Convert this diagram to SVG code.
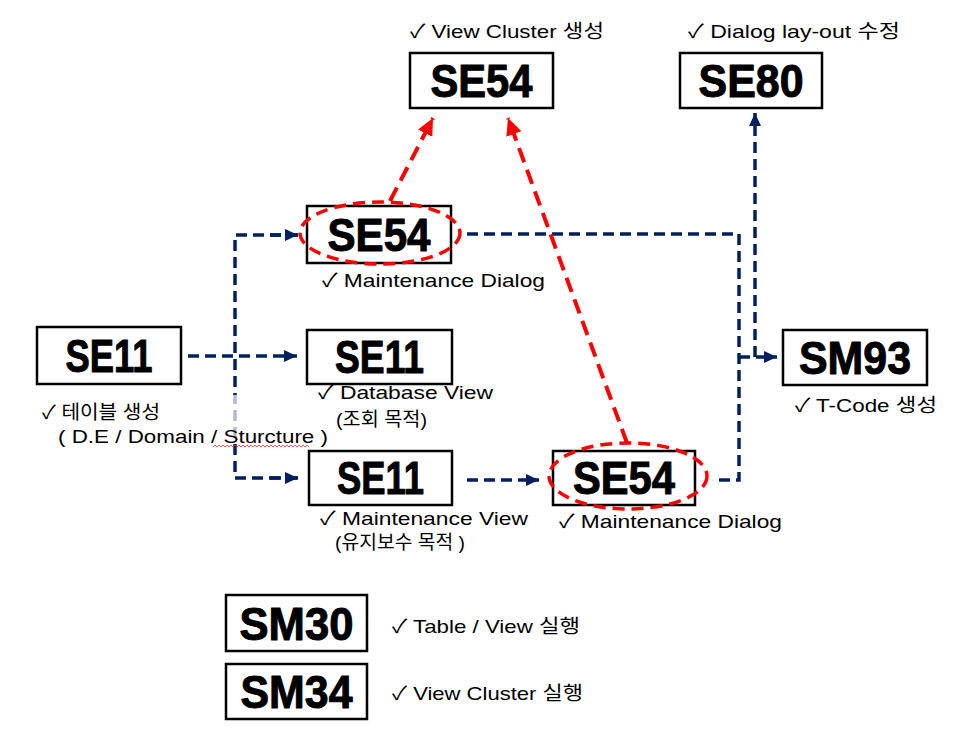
<svg xmlns="http://www.w3.org/2000/svg" width="971" height="740" viewBox="0 0 971 740">
<defs>
<style>
.box{fill:#fff;stroke:#000;stroke-width:2.5}
.big{font-family:"Liberation Sans","Noto Sans",Arial,sans-serif;font-weight:bold;font-size:46px;fill:#000;stroke:#000;stroke-width:1;stroke-linejoin:round;text-anchor:middle}
.lbl{font-family:"Liberation Sans","Noto Sans CJK KR","DejaVu Sans",sans-serif;font-size:19px;fill:#000}
.nav{fill:none;stroke:#002060;stroke-width:3.5;stroke-dasharray:11 6}
.red{fill:none;stroke:#FF0000;stroke-width:4;stroke-dasharray:15 8}
.ell{fill:none;stroke:#FF0000;stroke-width:3.5;stroke-dasharray:12 7}
</style>
<marker id="an" markerUnits="userSpaceOnUse" markerWidth="14" markerHeight="12" refX="13" refY="6" orient="auto">
<path d="M0,0 L13,6 L0,12 Z" fill="#002060"/>
</marker>
<marker id="ar" markerUnits="userSpaceOnUse" markerWidth="18" markerHeight="16" refX="17" refY="8" orient="auto">
<path d="M0,0 L17,8 L0,16 Z" fill="#FF0000"/>
</marker>
</defs>
<rect width="971" height="740" fill="#fff"/>

<g id="connectors">
<path class="nav" d="M188,356 L297,356" marker-end="url(#an)"/>
<path class="nav" d="M298,235 L235,235 L235,478 L297,478"/>
<path class="nav" d="M270,235 L298,235" marker-end="url(#an)"/>
<path class="nav" d="M270,478 L298,478" marker-end="url(#an)"/>
<path class="nav" d="M467,480 L539,480" marker-end="url(#an)"/>
<path class="nav" d="M467,234 L739,234 L739,480 L714,480"/>
<path class="nav" d="M739,357 L777,357" marker-end="url(#an)"/>
<path class="nav" d="M755,357 L755,113" marker-end="url(#an)"/>
<path class="red" d="M390,201 L433,118" marker-end="url(#ar)"/>
<path class="red" d="M627,443 L508,118" marker-end="url(#ar)"/>
<rect x="231" y="395" width="8" height="48" fill="#fff" opacity="0.7"/>
</g>

<g id="se54-top">
<rect class="box" x="410" y="53" width="143" height="55"/>
<text class="big" x="481.5" y="97" textLength="102" lengthAdjust="spacingAndGlyphs">SE54</text>
<text class="lbl" x="410" y="38" textLength="194" lengthAdjust="spacingAndGlyphs">✓ View Cluster 생성</text>
</g>

<g id="se80">
<rect class="box" x="680" y="53" width="142" height="55"/>
<text class="big" x="751" y="97" textLength="105" lengthAdjust="spacingAndGlyphs">SE80</text>
<text class="lbl" x="688" y="38" textLength="212" lengthAdjust="spacingAndGlyphs">✓ Dialog lay-out 수정</text>
</g>

<g id="se54-mid">
<rect class="box" x="307" y="206" width="144" height="57"/>
<text class="big" x="379" y="251" textLength="103" lengthAdjust="spacingAndGlyphs">SE54</text>
<ellipse class="ell" cx="380" cy="233" rx="80" ry="31"/>
<text class="lbl" x="322" y="287" textLength="223" lengthAdjust="spacingAndGlyphs">✓ Maintenance Dialog</text>
</g>

<g id="se11-left">
<rect class="box" x="37" y="327" width="144" height="57"/>
<text class="big" x="109" y="372" textLength="87" lengthAdjust="spacingAndGlyphs">SE11</text>
<text class="lbl" x="42" y="419" textLength="118" lengthAdjust="spacingAndGlyphs">✓ 테이블 생성</text>
<text class="lbl" x="58" y="443" textLength="270" lengthAdjust="spacingAndGlyphs">( D.E / Domain / Sturcture )</text>
<path d="M213,447 l2,-2 l2,2 l2,-2 l2,2 l2,-2 l2,2 l2,-2 l2,2 l2,-2 l2,2 l2,-2 l2,2 l2,-2 l2,2 l2,-2 l2,2 l2,-2 l2,2 l2,-2 l2,2 l2,-2 l2,2 l2,-2 l2,2 l2,-2 l2,2 l2,-2 l2,2 l2,-2 l2,2 l2,-2 l2,2 l2,-2 l2,2 l2,-2 l2,2 l2,-2 l2,2 l2,-2 l2,2 l2,-2 l2,2 l2,-2 l2,2 l2,-2 l2,2 l2,-2 l2,2" fill="none" stroke="#e03030" stroke-width="0.8"/>
</g>

<g id="se11-mid">
<rect class="box" x="307" y="330" width="145" height="54"/>
<text class="big" x="379.5" y="373" textLength="89" lengthAdjust="spacingAndGlyphs">SE11</text>
<text class="lbl" x="318" y="399" textLength="175" lengthAdjust="spacingAndGlyphs">✓ Database View</text>
<text class="lbl" x="336" y="426" textLength="91" lengthAdjust="spacingAndGlyphs">(조회 목적)</text>
</g>

<g id="se11-low">
<rect class="box" x="309" y="451" width="143" height="54"/>
<text class="big" x="380.5" y="494" textLength="87" lengthAdjust="spacingAndGlyphs">SE11</text>
<text class="lbl" x="320" y="525" textLength="208" lengthAdjust="spacingAndGlyphs">✓ Maintenance View</text>
<text class="lbl" x="335" y="549" textLength="130" lengthAdjust="spacingAndGlyphs">(유지보수 목적 )</text>
</g>

<g id="se54-low">
<rect class="box" x="553" y="451" width="142" height="54"/>
<text class="big" x="624" y="494" textLength="102" lengthAdjust="spacingAndGlyphs">SE54</text>
<ellipse class="ell" cx="628" cy="476" rx="79" ry="33"/>
<text class="lbl" x="559" y="528" textLength="223" lengthAdjust="spacingAndGlyphs">✓ Maintenance Dialog</text>
</g>

<g id="sm93">
<rect class="box" x="783" y="330" width="144" height="55"/>
<text class="big" x="855" y="374" textLength="112" lengthAdjust="spacingAndGlyphs">SM93</text>
<text class="lbl" x="795" y="412" textLength="142" lengthAdjust="spacingAndGlyphs">✓ T-Code 생성</text>
</g>

<g id="sm30">
<rect class="box" x="226" y="595" width="141" height="56"/>
<text class="big" x="296.5" y="640" textLength="114" lengthAdjust="spacingAndGlyphs">SM30</text>
<text class="lbl" x="392" y="633" textLength="188" lengthAdjust="spacingAndGlyphs">✓ Table / View 실행</text>
</g>

<g id="sm34">
<rect class="box" x="226" y="664" width="141" height="55"/>
<text class="big" x="296.5" y="708" textLength="112" lengthAdjust="spacingAndGlyphs">SM34</text>
<text class="lbl" x="392" y="700" textLength="191" lengthAdjust="spacingAndGlyphs">✓ View Cluster 실행</text>
</g>
</svg>
